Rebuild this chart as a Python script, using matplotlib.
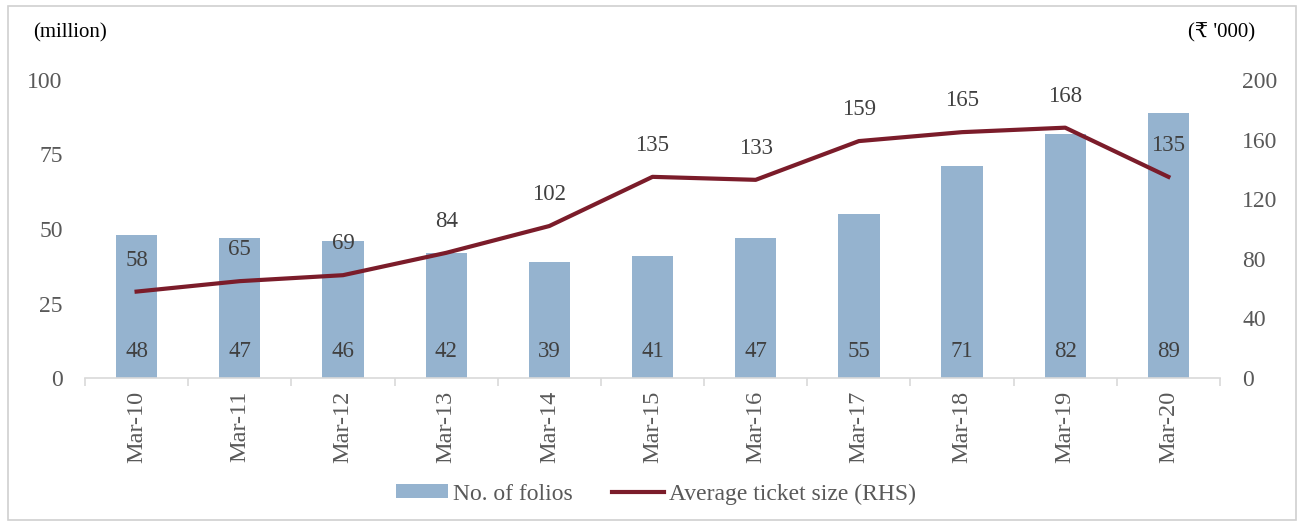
import matplotlib.pyplot as plt
import numpy as np
from matplotlib.patches import Rectangle

years = ['Mar-10', 'Mar-11', 'Mar-12', 'Mar-13', 'Mar-14', 'Mar-15',
         'Mar-16', 'Mar-17', 'Mar-18', 'Mar-19', 'Mar-20']
folios = [48, 47, 46, 42, 39, 41, 47, 55, 71, 82, 89]
ticket = [58, 65, 69, 84, 102, 135, 133, 159, 165, 168, 135]

plt.rcParams['font.family'] = ['Liberation Serif', 'DejaVu Serif', 'DejaVu Sans']
grey = '#595959'

fig = plt.figure(figsize=(13.01, 5.26), dpi=100)
ax = fig.add_axes([85/1301, 1-378/526, (1220-85)/1301, (378-80)/526])
ax2 = ax.twinx()

x = np.arange(len(years))
bars = ax.bar(x, folios, width=0.4, color='#95B3CF', label='No. of folios', zorder=2)
line, = ax2.plot(x, ticket, color='#7B1C2A', lw=3, label='Average ticket size (RHS)', zorder=3)

ax.set_xlim(-0.5, len(years)-0.5)
ax.set_ylim(0, 100)
ax.set_yticks([0, 25, 50, 75, 100])
ax2.set_ylim(0, 200)
ax2.set_yticks([0, 40, 80, 120, 160, 200])

for a in (ax, ax2):
    for s in ['top', 'left', 'right']:
        a.spines[s].set_visible(False)
    a.spines['bottom'].set_color('#D9D9D9')
    a.spines['bottom'].set_linewidth(1.2)
    a.tick_params(axis='y', length=0, labelsize=17, labelcolor=grey, pad=16)
ax2.spines['bottom'].set_visible(False)

ax.set_xticks(x)
ax.set_xticklabels(years, rotation=90, fontsize=17.5, color=grey)
ax.tick_params(axis='x', length=0, pad=9)
ax.set_xticks(np.arange(-0.5, len(years)), minor=True)
ax.tick_params(axis='x', which='minor', length=6, color='#D9D9D9', width=1.2)

for xi, v in zip(x, folios):
    ax.text(xi, 9, str(v), ha='center', va='center', fontsize=16.5, color='#404040', zorder=4)
for xi, v in zip(x, ticket):
    ax2.text(xi, v + 21, str(v), ha='center', va='center', fontsize=16.5, color='#404040', zorder=4)

fig.text(33/1301, 1-33/526, '(million)', fontsize=15, va='center', ha='left', color='black')
fig.text(1255/1301, 1-33/526, "(₹ '000)", fontsize=15, va='center', ha='right', color='black')

fig.legend([bars, line], ['No. of folios', 'Average ticket size (RHS)'],
           loc='center', bbox_to_anchor=(656/1301, 1-494/526), ncol=2, frameon=False,
           fontsize=17, labelcolor=grey, handlelength=2.2, handleheight=0.55,
           columnspacing=1.7, handletextpad=0.2)

fig.patches.append(Rectangle((8/1301, 6/526), 1288/1301, 514/526, transform=fig.transFigure,
                             fill=False, edgecolor='#D0D0D0', lw=1.2))

fig.savefig('out.png', dpi=100)
